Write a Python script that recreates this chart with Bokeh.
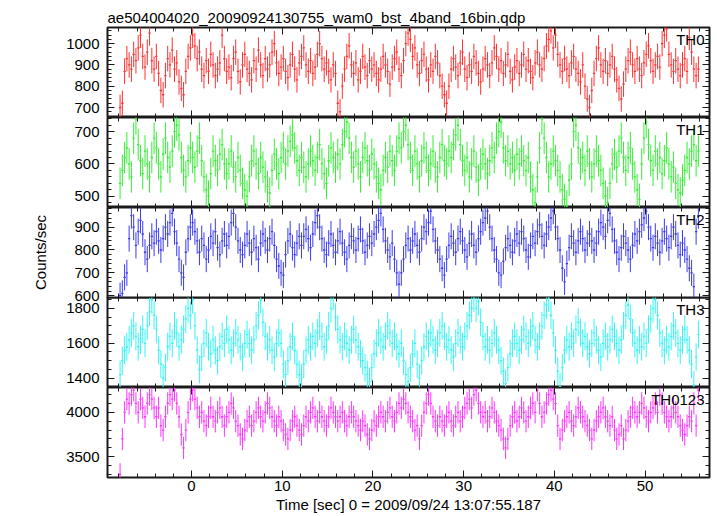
from bokeh.plotting import figure
from bokeh.layouts import column
from bokeh.models import LinearAxis, Range1d, Label, SingleIntervalTicker, ColumnDataSource
from bokeh.embed import file_html
from bokeh.resources import INLINE

FONT = "Liberation Sans"

title_text = "ae504004020_20090924130755_wam0_bst_4band_16bin.qdp"
x_label = "Time [sec] 0 = 2009/09/24 13:07:55.187"
y_label = "Counts/sec"

t_first = -7.875   # centre of first 0.25 s bin
bin_width = 0.25
x_range_lim = (-9.26, 57.1)

panel_names = ["TH0", "TH1", "TH2", "TH3", "TH0123"]
colors = ["#ff3030", "#33ee33", "#3a3af0", "#33f5f5", "#ff33ff"]
y_limits = [(653, 1076), (465, 744), (592, 986), (1346, 1863), (3265, 4280)]
y_tick_interval = [100, 100, 100, 200, 500]
y_minor_count = [5, 5, 5, 4, 5]
rate_err = [60, 49, 57, 80, 126]

th0_rate = [
    700, 720, 870, 930, 900, 880, 950, 920, 980, 1040, 940, 890, 960, 1050, 920, 880,
    940, 860, 780, 760, 850, 930, 900, 970, 880, 910, 820, 790, 760, 870, 940, 980,
    1040, 990, 930, 960, 880, 850, 920, 870, 950, 900, 850, 880, 910, 1040, 930, 870,
    890, 840, 930, 960, 870, 820, 900, 950, 880, 860, 830, 920, 880, 970, 900, 850,
    930, 880, 900, 960, 1000, 910, 860, 890, 930, 870, 840, 900, 950, 880, 830, 910,
    940, 980, 900, 870, 920, 860, 890, 950, 1000, 930, 880, 910, 870, 830, 900, 860,
    720, 680, 800, 880, 940, 990, 900, 860, 910, 830, 870, 940, 890, 850, 920, 880,
    900, 860, 830, 880, 940, 900, 870, 810, 890, 930, 960, 880, 850, 920, 1000, 1050,
    1020, 940, 980, 900, 860, 920, 950, 880, 830, 900, 870, 940, 910, 850, 800, 760,
    720, 800, 880, 930, 890, 850, 910, 960, 880, 840, 900, 870, 940, 910, 860, 820,
    880, 930, 900, 850, 910, 980, 940, 880, 920, 860, 900, 950, 870, 830, 890, 920,
    860, 900, 950, 880, 920, 870, 840, 910, 960, 900, 880, 930, 990, 1020, 1060, 980,
    1040, 950, 900, 870, 930, 880, 850, 910, 940, 880, 860, 820, 900, 800, 740, 700,
    780, 860, 930, 980, 900, 870, 920, 860, 900, 940, 880, 830, 790, 740, 810, 880,
    920, 960, 900, 870, 930, 880, 850, 910, 950, 990, 920, 870, 900, 940, 890, 1000,
    1040, 1070, 950, 900, 870, 920, 880, 850, 900, 930, 870, 1030, 960, 880, 850, 880,
]

th1_rate = [
    540, 580, 620, 650, 600, 560, 680, 740, 660, 610, 570, 640, 600, 560, 620, 680,
    650, 600, 560, 630, 680, 620, 590, 640, 700, 720, 690, 620, 580, 560, 610, 650,
    620, 590, 640, 680, 610, 560, 520, 500, 570, 640, 610, 580, 630, 660, 600, 570,
    600, 640, 590, 560, 620, 580, 540, 520, 500, 560, 610, 640, 600, 570, 620, 590,
    560, 530, 510, 580, 630, 600, 570, 620, 650, 600, 640, 670, 690, 650, 610, 580,
    620, 590, 560, 600, 640, 610, 580, 620, 660, 600, 570, 540, 610, 650, 620, 590,
    630, 600, 660, 700, 730, 680, 620, 590, 640, 600, 560, 620, 650, 610, 580, 630,
    600, 560, 540, 520, 580, 620, 590, 640, 610, 580, 640, 680, 650, 700, 720, 660,
    620, 580, 640, 600, 560, 610, 650, 620, 580, 600, 640, 590, 560, 620, 660, 610,
    600, 640, 620, 660, 690, 720, 660, 610, 580, 620, 560, 600, 640, 590, 550, 600,
    630, 600, 570, 610, 650, 620, 680, 700, 730, 650, 610, 640, 600, 620, 580, 630,
    600, 640, 610, 580, 620, 560, 520, 480, 560, 650, 740, 680, 620, 560, 600, 640,
    610, 580, 560, 520, 490, 470, 550, 600, 700, 720, 650, 600, 620, 580, 640, 600,
    560, 600, 640, 610, 580, 540, 500, 480, 540, 600, 630, 590, 640, 680, 620, 580,
    620, 650, 600, 560, 520, 490, 600, 680, 730, 660, 610, 580, 640, 600, 620, 570,
    610, 650, 600, 560, 590, 540, 520, 510, 550, 580, 620, 600, 640, 660, 610, 640,
]

th2_rate = [
    600, 610, 680, 700, 850, 950, 900, 820, 880, 930, 870, 790, 760, 820, 860, 830,
    880, 840, 800, 850, 900, 870, 920, 960, 880, 830, 760, 700, 680, 790, 850, 900,
    920, 880, 840, 790, 850, 820, 760, 800, 860, 830, 880, 810, 780, 840, 870, 820,
    860, 920, 960, 900, 840, 800, 780, 820, 870, 830, 790, 850, 810, 760, 830, 870,
    840, 800, 850, 880, 820, 760, 730, 700, 690, 780, 840, 870, 810, 780, 830, 860,
    820, 860, 890, 850, 810, 870, 920, 950, 900, 850, 800, 780, 830, 870, 820, 790,
    840, 880, 830, 790, 760, 820, 860, 840, 800, 850, 890, 840, 790, 820, 860, 830,
    870, 900, 930, 960, 890, 840, 800, 770, 830, 760, 700, 650, 700, 760, 820, 850,
    800, 840, 870, 820, 790, 850, 900, 880, 920, 970, 890, 840, 800, 760, 720, 690,
    760, 820, 860, 830, 790, 850, 880, 840, 800, 770, 830, 870, 820, 790, 850, 880,
    920, 940, 970, 900, 850, 800, 760, 700, 690, 750, 810, 850, 820, 790, 840, 870,
    830, 880, 850, 800, 770, 820, 860, 830, 880, 910, 860, 820, 870, 900, 940, 970,
    900, 850, 800, 720, 660, 740, 810, 860, 830, 790, 840, 880, 850, 800, 830, 870,
    840, 800, 830, 880, 920, 900, 860, 930, 960, 890, 840, 790, 760, 810, 860, 830,
    800, 760, 820, 870, 840, 880, 910, 940, 970, 900, 850, 810, 860, 830, 790, 840,
    880, 850, 810, 860, 900, 870, 820, 780, 830, 800, 760, 720, 700, 640, 880, 950,
]

th3_rate = [
    1420, 1500, 1560, 1580, 1620, 1660, 1700, 1640, 1580, 1620, 1680, 1600, 1700, 1780, 1850, 1760,
    1680, 1560, 1480, 1400, 1460, 1580, 1640, 1600, 1700, 1660, 1580, 1620, 1680, 1740, 1800, 1760,
    1850, 1700, 1560, 1450, 1520, 1600, 1660, 1580, 1540, 1620, 1560, 1500, 1580, 1640, 1600, 1680,
    1620, 1560, 1600, 1660, 1620, 1580, 1520, 1600, 1650, 1600, 1560, 1620, 1700, 1760, 1850, 1720,
    1640, 1580, 1620, 1560, 1520, 1600, 1660, 1600, 1480, 1420, 1500, 1580, 1640, 1560, 1480, 1420,
    1400, 1480, 1560, 1620, 1580, 1640, 1600, 1660, 1700, 1640, 1580, 1620, 1700, 1800, 1870, 1750,
    1680, 1620, 1580, 1640, 1600, 1560, 1620, 1680, 1620, 1580, 1540, 1500, 1460, 1420, 1380, 1460,
    1540, 1600, 1660, 1620, 1580, 1640, 1700, 1660, 1600, 1640, 1580, 1540, 1600, 1500, 1420, 1380,
    1460, 1540, 1600, 1480, 1400, 1500, 1580, 1640, 1600, 1660, 1620, 1560, 1600, 1660, 1700, 1640,
    1580, 1620, 1560, 1520, 1600, 1660, 1620, 1580, 1640, 1700, 1760, 1800, 1860, 1800, 1840, 1720,
    1640, 1580, 1620, 1560, 1600, 1660, 1620, 1560, 1500, 1440, 1370, 1460, 1540, 1600, 1640, 1600,
    1560, 1620, 1680, 1640, 1600, 1660, 1700, 1620, 1580, 1640, 1700, 1760, 1820, 1860, 1760, 1660,
    1560, 1440, 1350, 1460, 1560, 1620, 1580, 1640, 1600, 1680, 1720, 1660, 1600, 1640, 1580, 1540,
    1600, 1660, 1620, 1560, 1520, 1600, 1640, 1580, 1620, 1680, 1640, 1600, 1560, 1620, 1700, 1760,
    1820, 1740, 1660, 1600, 1560, 1620, 1580, 1640, 1600, 1680, 1740, 1800, 1850, 1760, 1660, 1600,
    1560, 1620, 1580, 1640, 1700, 1660, 1600, 1560, 1620, 1680, 1620, 1560, 1480, 1360, 1520, 1650,
]

th0123_rate = [
    3300, 3700, 4000, 4150, 4100, 4200, 4250, 4100, 4000, 4150, 4050, 3950, 4100, 4200, 4150, 4050,
    3950, 4050, 3850, 3800, 3950, 4100, 4200, 4150, 4250, 4100, 3950, 3750, 3600, 3800, 4000, 4150,
    4250, 4150, 4050, 3950, 4000, 3900, 3850, 3950, 4050, 3950, 3900, 4000, 4050, 3950, 3850, 3950,
    4000, 4100, 4050, 3900, 3850, 3750, 3700, 3800, 3900, 3950, 3850, 3900, 4000, 4050, 3950, 3900,
    4000, 4100, 4050, 3950, 3900, 3850, 3950, 3900, 3800, 3750, 3700, 3800, 3900, 3950, 3850, 3800,
    3750, 3850, 3950, 3900, 4000, 4050, 3950, 3900, 4000, 3950, 3900, 3850, 3950, 4050, 4000, 3950,
    3900, 3950, 4000, 3900, 3850, 3950, 4000, 3950, 3900, 3850, 3800, 3900, 3850, 3750, 3700, 3800,
    3900, 3850, 3950, 4000, 3950, 3900, 4000, 4050, 3950, 3900, 4000, 4100, 4050, 4150, 4100, 4000,
    3950, 3900, 3800, 3850, 3700, 3850, 4000, 4100, 4200, 4100, 3950, 3900, 3850, 3950, 3900, 3850,
    3950, 4000, 3900, 3850, 3950, 4000, 3900, 3950, 4050, 4100, 4150, 4050, 4200, 4250, 4100, 4000,
    3950, 4000, 3900, 3950, 4050, 4000, 3900, 3850, 3800, 3700, 3600, 3700, 3850, 3950, 4000, 3900,
    3950, 4050, 4000, 3900, 3950, 4050, 4100, 4000, 4250, 4100, 3950, 4000, 4100, 4200, 4250, 4150,
    4100, 3850, 3700, 3800, 3900, 3950, 4000, 3900, 3850, 3950, 4050, 4000, 3950, 3900, 3850, 3800,
    3700, 3800, 3900, 3950, 4000, 4050, 3950, 3900, 3850, 3950, 3800, 3700, 3750, 3850, 3700, 3800,
    3900, 3950, 4050, 4000, 3950, 4000, 4100, 4050, 3950, 3900, 4000, 4050, 4100, 4000, 4200, 4100,
    4000, 3950, 3900, 3950, 4050, 4000, 3950, 3850, 3800, 3750, 3850, 3950, 3900, 4100, 3850, 4250,
]

series = [th0_rate, th1_rate, th2_rate, th3_rate, th0123_rate]

FRAME_W = 602
FRAME_H = 90
LEFT_B = 107
RIGHT_B = 8
TOP_B = 27
BOTTOM_B = 38
OVERLAP = 9   # TH2's lowest tick label hangs into this strip, which sits under TH3


def hide_labels(ax):
    ax.major_label_text_color = None
    ax.major_label_text_font_size = "1px"
    ax.major_label_standoff = 0


figs = []
n = len(series)
for k in range(n):
    rates = series[k]
    err = rate_err[k]
    t = [t_first + bin_width * i for i in range(len(rates))]
    src = ColumnDataSource(dict(
        t=t,
        t0=[v - bin_width / 2 for v in t],
        t1=[v + bin_width / 2 for v in t],
        y=rates,
        ylo=[v - err for v in rates],
        yhi=[v + err for v in rates],
    ))
    is_top = k == 0
    is_bottom = k == n - 1
    b_top = TOP_B if is_top else 0
    b_bot = BOTTOM_B if is_bottom else (OVERLAP if k == 2 else 0)
    p = figure(width=LEFT_B + FRAME_W + RIGHT_B, height=FRAME_H + b_top + b_bot,
               x_range=Range1d(*x_range_lim), y_range=Range1d(*y_limits[k]),
               output_backend="svg", toolbar_location=None,
               min_border=0, min_border_left=LEFT_B, min_border_right=RIGHT_B,
               min_border_top=b_top, min_border_bottom=b_bot)
    p.xgrid.visible = False
    p.ygrid.visible = False
    p.background_fill_color = "white"
    p.border_fill_color = "white"
    if k == 3:
        p.margin = (-OVERLAP, 0, 0, 0)
        p.background_fill_alpha = 0
        p.border_fill_alpha = 0
    p.outline_line_color = "#1a1a1a"
    p.outline_line_width = 2

    col = colors[k]
    p.segment(x0="t", y0="ylo", x1="t", y1="yhi", source=src, line_color=col, line_width=1)
    p.segment(x0="t0", y0="y", x1="t1", y1="y", source=src, line_color=col, line_width=1.3)

    p.add_layout(LinearAxis(), "right")
    p.add_layout(LinearAxis(), "above")

    for ax in p.xaxis:
        ax.ticker = SingleIntervalTicker(interval=10, num_minor_ticks=5)
    for ax in p.yaxis:
        ax.ticker = SingleIntervalTicker(interval=y_tick_interval[k],
                                         num_minor_ticks=y_minor_count[k])

    for ax in list(p.xaxis) + list(p.yaxis):
        ax.axis_line_color = None
        ax.major_tick_in = 7
        ax.major_tick_out = 0
        ax.minor_tick_in = 4
        ax.minor_tick_out = 0
        ax.major_tick_line_color = "#1a1a1a"
        ax.minor_tick_line_color = "#1a1a1a"
        ax.major_tick_line_width = 1
        ax.minor_tick_line_width = 1
        ax.major_label_text_font = FONT
        ax.major_label_text_font_size = "15px"
        ax.major_label_text_color = "black"
        ax.axis_label_text_font = FONT
        ax.axis_label_text_font_size = "15px"
        ax.axis_label_text_font_style = "normal"
        ax.axis_label_text_color = "black"

    p.left[0].major_label_standoff = 8
    hide_labels(p.right[0])
    hide_labels(p.above[0])
    bottom_axis = p.below[0]
    if is_bottom:
        bottom_axis.major_label_standoff = 3
        bottom_axis.axis_label = x_label
        bottom_axis.axis_label_standoff = 2
    else:
        hide_labels(bottom_axis)

    if k == 2:
        p.left[0].axis_label = y_label
        p.left[0].axis_label_standoff = 22

    if is_top:
        p.title.text = title_text
        p.title.align = "left"
        p.title.text_font = FONT
        p.title.text_font_size = "15px"
        p.title.text_font_style = "normal"
        p.title.text_color = "black"
        p.title.standoff = 3
        p.title.offset = 0

    p.add_layout(Label(x=x_range_lim[1], y=y_limits[k][1], x_offset=-5, y_offset=-3,
                       text=panel_names[k], text_align="right", text_baseline="top",
                       text_font=FONT, text_font_size="15px", text_color="black"))
    figs.append(p)

layout = column(*figs, spacing=0)
open("out.html", "w").write(file_html(layout, INLINE))
